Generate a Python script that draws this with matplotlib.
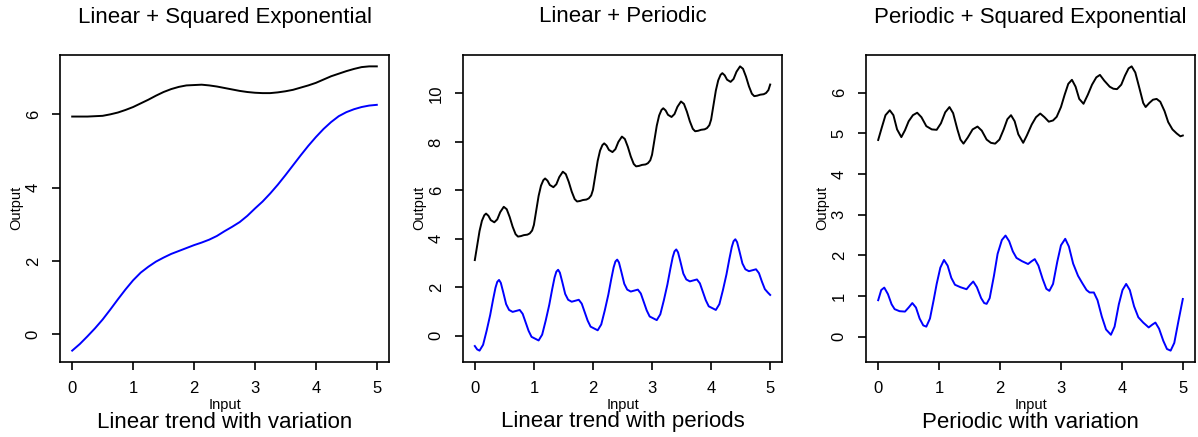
import matplotlib.pyplot as plt

plt.rcParams['font.family'] = ['Liberation Sans', 'DejaVu Sans']

titles = ['Linear + Squared Exponential', 'Linear + Periodic', 'Periodic + Squared Exponential']
subtitles = ['Linear trend with variation', 'Linear trend with periods', 'Periodic with variation']

# panel 1: linear + squared exponential
lin_se_x = [0, 0.125, 0.25, 0.375, 0.5, 0.625, 0.75, 0.875, 1, 1.125, 1.25, 1.375, 1.5, 1.625,
            1.75, 1.875, 2, 2.125, 2.25, 2.375, 2.5, 2.625, 2.75, 2.875, 3, 3.125, 3.25, 3.375,
            3.5, 3.625, 3.75, 3.875, 4, 4.125, 4.25, 4.375, 4.5, 4.625, 4.75, 4.875, 5]
lin_se_black = [5.94, 5.94, 5.94, 5.95, 5.96, 6.0, 6.05, 6.12, 6.2, 6.3, 6.4, 6.51, 6.61, 6.69,
                6.75, 6.79, 6.8, 6.81, 6.79, 6.76, 6.72, 6.68, 6.64, 6.61, 6.59, 6.58, 6.58, 6.6,
                6.63, 6.67, 6.73, 6.79, 6.86, 6.95, 7.04, 7.11, 7.18, 7.24, 7.29, 7.31, 7.31]
lin_se_blue = [-0.45, -0.27, -0.06, 0.16, 0.4, 0.67, 0.95, 1.22, 1.47, 1.68, 1.84, 1.98, 2.09, 2.19,
               2.27, 2.35, 2.43, 2.5, 2.58, 2.68, 2.81, 2.93, 3.06, 3.23, 3.43, 3.62, 3.84, 4.08,
               4.34, 4.61, 4.88, 5.14, 5.38, 5.6, 5.79, 5.95, 6.06, 6.14, 6.2, 6.24, 6.26]

# panel 2: linear + periodic
lin_per_bx = [0, 0.04, 0.08, 0.12, 0.16, 0.19, 0.23, 0.27, 0.33, 0.38, 0.43, 0.49, 0.54, 0.59, 0.64, 0.69, 0.73, 0.78, 0.83, 0.89, 0.93, 0.97,
              1, 1.04, 1.08, 1.12, 1.16, 1.19, 1.23, 1.27, 1.33, 1.38, 1.43, 1.49, 1.54, 1.59, 1.64, 1.69, 1.73, 1.78, 1.83, 1.89, 1.93, 1.97,
              2, 2.04, 2.08, 2.12, 2.16, 2.19, 2.23, 2.27, 2.33, 2.38, 2.43, 2.49, 2.54, 2.59, 2.64, 2.69, 2.73, 2.78, 2.83, 2.89, 2.93, 2.97,
              3, 3.04, 3.08, 3.12, 3.16, 3.19, 3.23, 3.27, 3.33, 3.38, 3.43, 3.49, 3.54, 3.59, 3.64, 3.69, 3.73, 3.78, 3.83, 3.89, 3.93, 3.97,
              4, 4.04, 4.08, 4.12, 4.16, 4.19, 4.23, 4.27, 4.33, 4.38, 4.43, 4.49, 4.54, 4.59, 4.64, 4.69, 4.73, 4.78, 4.83, 4.89, 4.93, 4.97,
              5]
lin_per_black = [3.12, 3.72, 4.32, 4.74, 4.97, 5.04, 4.95, 4.77, 4.68, 4.80, 5.10, 5.32, 5.22, 4.90, 4.50, 4.19, 4.09, 4.11, 4.15, 4.17, 4.22, 4.34,
                 4.57, 5.17, 5.77, 6.19, 6.42, 6.49, 6.40, 6.22, 6.13, 6.25, 6.55, 6.77, 6.67, 6.35, 5.95, 5.64, 5.54, 5.56, 5.60, 5.62, 5.67, 5.79,
                 6.02, 6.62, 7.22, 7.64, 7.87, 7.94, 7.85, 7.67, 7.58, 7.70, 8.00, 8.22, 8.12, 7.80, 7.40, 7.09, 6.99, 7.01, 7.05, 7.07, 7.12, 7.24,
                 7.47, 8.07, 8.67, 9.09, 9.32, 9.39, 9.30, 9.12, 9.03, 9.15, 9.45, 9.67, 9.57, 9.25, 8.85, 8.54, 8.44, 8.46, 8.50, 8.52, 8.57, 8.69,
                 8.92, 9.52, 10.12, 10.54, 10.77, 10.84, 10.75, 10.57, 10.48, 10.60, 10.90, 11.12, 11.02, 10.70, 10.30, 9.99, 9.89, 9.91, 9.95, 9.97, 10.02, 10.14,
                 10.37]
lin_per_ux = [0, 0.04, 0.08, 0.14, 0.2, 0.26, 0.31, 0.35, 0.38, 0.41, 0.44, 0.48, 0.53, 0.58, 0.64, 0.7, 0.76, 0.81, 0.86, 0.91, 0.96,
              1, 1.04, 1.08, 1.14, 1.2, 1.26, 1.31, 1.35, 1.38, 1.41, 1.44, 1.48, 1.53, 1.58, 1.64, 1.7, 1.76, 1.81, 1.86, 1.91, 1.96,
              2, 2.04, 2.08, 2.14, 2.2, 2.26, 2.31, 2.35, 2.38, 2.41, 2.44, 2.48, 2.53, 2.58, 2.64, 2.7, 2.76, 2.81, 2.86, 2.91, 2.96,
              3, 3.04, 3.08, 3.14, 3.2, 3.26, 3.31, 3.35, 3.38, 3.41, 3.44, 3.48, 3.53, 3.58, 3.64, 3.7, 3.76, 3.81, 3.86, 3.91, 3.96,
              4, 4.04, 4.08, 4.14, 4.2, 4.26, 4.31, 4.35, 4.38, 4.41, 4.44, 4.48, 4.53, 4.58, 4.64, 4.7, 4.76, 4.81, 4.86, 4.91, 4.96,
              5]
lin_per_blue = [-0.43, -0.57, -0.62, -0.38, 0.2, 0.85, 1.5, 1.98, 2.22, 2.30, 2.18, 1.8, 1.3, 1.06, 0.98, 1.02, 1.06, 0.9, 0.55, 0.2, -0.05,
                -0.10, -0.15, -0.2, 0.04, 0.62, 1.27, 1.92, 2.4, 2.64, 2.72, 2.6, 2.22, 1.72, 1.48, 1.4, 1.44, 1.48, 1.32, 0.97, 0.62, 0.37,
                0.32, 0.27, 0.22, 0.46, 1.04, 1.69, 2.34, 2.82, 3.06, 3.14, 3.02, 2.64, 2.14, 1.9, 1.82, 1.86, 1.9, 1.74, 1.39, 1.04, 0.79,
                0.74, 0.69, 0.64, 0.88, 1.46, 2.11, 2.76, 3.24, 3.48, 3.56, 3.44, 3.06, 2.56, 2.32, 2.24, 2.28, 2.32, 2.16, 1.81, 1.46, 1.21,
                1.16, 1.11, 1.06, 1.30, 1.88, 2.53, 3.18, 3.66, 3.90, 3.98, 3.86, 3.48, 2.98, 2.74, 2.66, 2.70, 2.74, 2.58, 2.23, 1.92, 1.78,
                1.68]

# panel 3: periodic + squared exponential
per_se_bx = [0, 0.06, 0.12, 0.19, 0.25, 0.31, 0.38, 0.44, 0.5, 0.57, 0.64, 0.71, 0.79, 0.88, 0.96,
             1.03, 1.1, 1.17, 1.23, 1.3, 1.35, 1.4, 1.47, 1.55, 1.63, 1.7, 1.78, 1.85, 1.92, 1.99,
             2.06, 2.12, 2.18, 2.24, 2.3, 2.38, 2.44, 2.52, 2.59, 2.66, 2.73, 2.8, 2.87, 2.93,
             3.0, 3.06, 3.12, 3.18, 3.24, 3.3, 3.37, 3.44, 3.51, 3.58, 3.64, 3.71, 3.8, 3.86, 3.92, 3.99,
             4.05, 4.11, 4.16, 4.22, 4.29, 4.35, 4.39, 4.45, 4.51, 4.57, 4.63, 4.7, 4.76, 4.83, 4.9, 4.96, 5.0]
per_se_black = [4.84, 5.15, 5.45, 5.57, 5.45, 5.1, 4.91, 5.08, 5.3, 5.45, 5.51, 5.4, 5.18, 5.1, 5.09,
                5.25, 5.52, 5.65, 5.5, 5.1, 4.85, 4.75, 4.9, 5.1, 5.17, 5.07, 4.85, 4.77, 4.75, 4.85,
                5.1, 5.35, 5.45, 5.3, 4.98, 4.77, 4.95, 5.22, 5.4, 5.49, 5.4, 5.29, 5.32, 5.41,
                5.65, 5.95, 6.22, 6.32, 6.15, 5.85, 5.73, 5.95, 6.2, 6.38, 6.44, 6.3, 6.15, 6.1, 6.09, 6.2,
                6.42, 6.6, 6.65, 6.5, 6.1, 5.75, 5.65, 5.75, 5.83, 5.85, 5.78, 5.55, 5.28, 5.1, 5.0, 4.93, 4.95]
per_se_ux = [0, 0.05, 0.1, 0.16, 0.22, 0.27, 0.35, 0.44, 0.5, 0.56, 0.62, 0.68, 0.74, 0.79, 0.85, 0.91, 0.96,
             1.02, 1.08, 1.14, 1.2, 1.26, 1.35, 1.45, 1.51, 1.56, 1.62, 1.69, 1.74, 1.78, 1.83, 1.9, 1.96,
             2.03, 2.09, 2.15, 2.21, 2.27, 2.36, 2.46, 2.52, 2.57, 2.63, 2.7, 2.76, 2.81, 2.87, 2.94,
             3.0, 3.07, 3.13, 3.2, 3.28, 3.35, 3.42, 3.47, 3.54, 3.6, 3.67, 3.74, 3.82, 3.88, 3.95,
             4.01, 4.07, 4.13, 4.2, 4.27, 4.35, 4.44, 4.5, 4.55, 4.61, 4.68, 4.74, 4.8, 4.86, 4.93, 5.0]
per_se_blue = [0.9, 1.15, 1.21, 1.05, 0.8, 0.68, 0.63, 0.62, 0.72, 0.83, 0.72, 0.45, 0.28, 0.25, 0.45, 0.9, 1.3,
               1.7, 1.89, 1.75, 1.45, 1.28, 1.22, 1.17, 1.28, 1.36, 1.22, 0.95, 0.83, 0.81, 0.95, 1.5, 2.04,
               2.38, 2.49, 2.35, 2.1, 1.94, 1.86, 1.79, 1.86, 1.91, 1.75, 1.42, 1.18, 1.13, 1.3, 1.85,
               2.25, 2.41, 2.22, 1.8, 1.5, 1.32, 1.15, 1.09, 1.09, 0.9, 0.5, 0.18, 0.05, 0.25, 0.8,
               1.15, 1.3, 1.15, 0.75, 0.48, 0.35, 0.23, 0.3, 0.35, 0.2, -0.1, -0.3, -0.34, -0.15, 0.4, 0.93]

panels = [
    (lin_se_x, lin_se_black, lin_se_x, lin_se_blue, [0, 2, 4, 6]),
    (lin_per_bx, lin_per_black, lin_per_ux, lin_per_blue, [0, 2, 4, 6, 8, 10]),
    (per_se_bx, per_se_black, per_se_ux, per_se_blue, [0, 1, 2, 3, 4, 5, 6]),
]

W, H = 1198, 437
fig = plt.figure(figsize=(W / 100, H / 100), dpi=100)
lefts = [60, 463, 866]
widths = [329, 319, 329]
top_px, bot_px = 55, 362

for i, (bx, by, ux, uy, yt) in enumerate(panels):
    ax = fig.add_axes([lefts[i] / W, 1 - bot_px / H, widths[i] / W, (bot_px - top_px) / H])
    ax.plot(bx, by, color='black', lw=1.4)
    ax.plot(ux, uy, color='#0000ff', lw=1.4)
    lo = min(min(by), min(uy))
    hi = max(max(by), max(uy))
    pad = (hi - lo) * 0.04
    ax.set_ylim(lo - pad, hi + pad)
    ax.set_xlim(-0.2, 5.2)
    ax.set_xticks([0, 1, 2, 3, 4, 5])
    ax.set_yticks(yt)
    for s in ax.spines.values():
        s.set_linewidth(1.2)
    ax.tick_params(direction='out', length=5.8, width=1.2, labelsize=12, pad=13.5)
    for lab in ax.get_yticklabels():
        lab.set_rotation(90)
        lab.set_ha('center')
        lab.set_va('center')
    for lab in ax.get_xticklabels():
        lab.set_va('center')

    cx = (lefts[i] + widths[i] / 2) / W
    fig.text(cx, 1 - 17 / H, titles[i], ha='center', va='center', fontsize=16)
    fig.text(cx, 1 - 422 / H, subtitles[i], ha='center', va='center', fontsize=16)
    fig.text(cx, 1 - 405 / H, 'Input', ha='center', va='center', fontsize=10.5)
    fig.text((lefts[i] - 44) / W, 1 - 208 / H, 'Output', ha='center', va='center',
             rotation=90, fontsize=10.5)

fig.savefig('out.png', dpi=100)
